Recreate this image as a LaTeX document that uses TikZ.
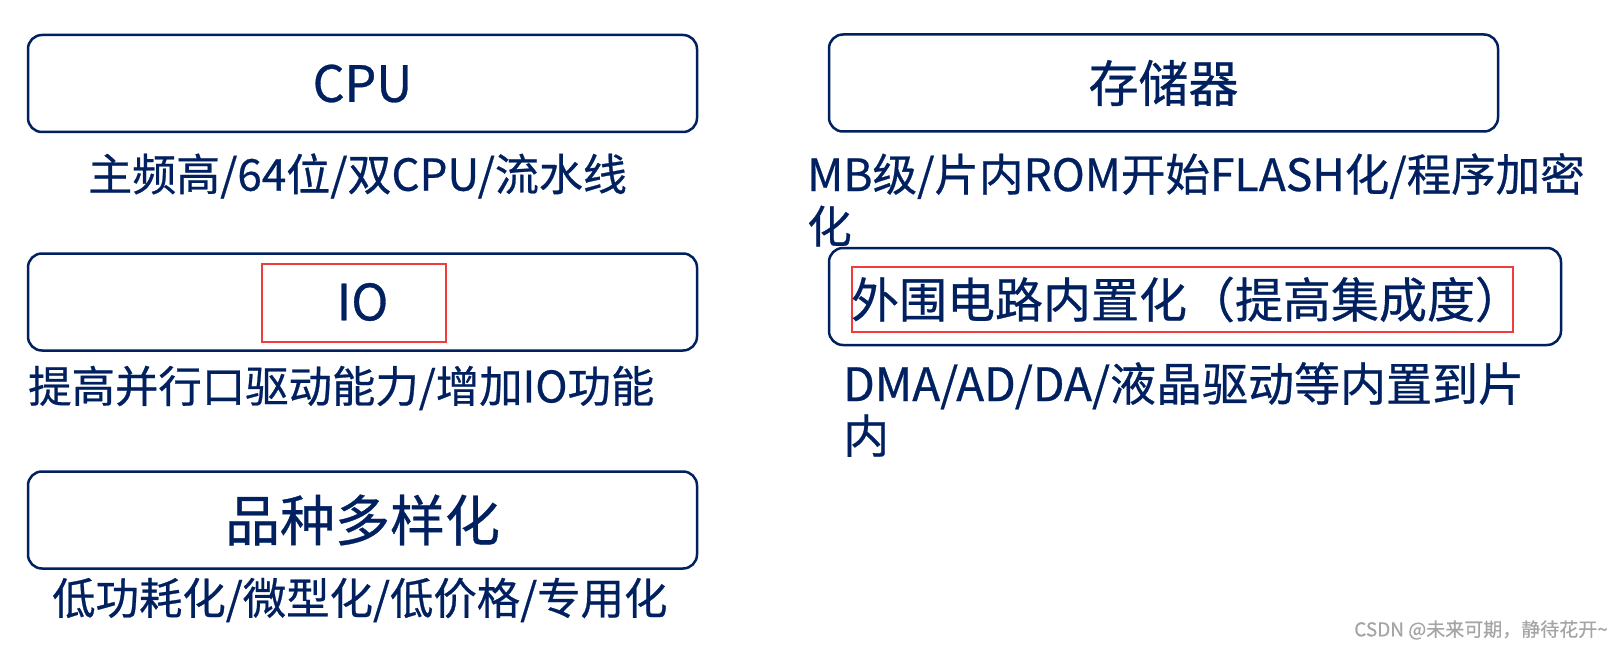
\documentclass[tikz,border=0pt]{standalone}
\usepackage{fontspec}
\setmainfont{Noto Sans CJK SC}[FakeBold=0.6]
\definecolor{navy}{RGB}{0,32,96}
\definecolor{redbox}{RGB}{240,60,60}
\definecolor{wm}{RGB}{165,165,165}
\tikzset{
  box/.style={draw=navy, line width=2.5pt, rounded corners=14pt, minimum height=97pt, inner sep=0pt},
  title/.style={text=navy, font=\fontsize{50}{56}\selectfont, inner sep=0pt},
  caption/.style={text=navy, font=\fontsize{44}{52}\selectfont, inner sep=0pt, align=left},
  hilite/.style={draw=redbox, line width=2pt, inner sep=0pt},
}
\begin{document}
\begin{tikzpicture}[x=1pt,y=-1pt]
\useasboundingbox (0,0) rectangle (1623,650);
% left column
\node[box, minimum width=669pt] (cpubox) at (362.5,83.5) {};
\node[title] (cpu) at (362.5,83.5) {CPU};
\node[caption, anchor=west] (cpucap) at (88,176) {主频高/64位/双CPU/流水线};

\node[box, minimum width=669pt] (iobox) at (362.5,302) {};
\node[hilite, minimum width=184pt, minimum height=78pt] (iored) at (354,303) {};
\node[title] (io) at (362.5,302) {IO};
\node[caption, font=\fontsize{43.4}{52}\selectfont, anchor=west] (iocap) at (28,388) {提高并行口驱动能力/增加IO功能};

\node[box, minimum width=669pt] (varbox) at (362.5,520) {};
\node[title, font=\fontsize{55}{60}\selectfont] (var) at (362.5,520) {品种多样化};
\node[caption, font=\fontsize{43.4}{52}\selectfont, anchor=west] (varcap) at (52,600) {低功耗化/微型化/低价格/专用化};

% right column
\node[box, minimum width=669pt] (membox) at (1163.5,83) {};
\node[title] (mem) at (1163.5,83) {存储器};
\node[caption, font=\fontsize{44.5}{52}\selectfont, anchor=north west] (memcap) at (807,153) {MB级/片内ROM开始FLASH化/程序加密\\化};

\node[box, minimum width=732pt] (perbox) at (1195,296.5) {};
\node[hilite, minimum width=661pt, minimum height=65pt] (perred) at (1182.5,299.5) {};
\node[title, font=\fontsize{48}{54}\selectfont] (per) at (1187,299.5) {外围电路内置化（提高集成度）};
\node[caption, font=\fontsize{46}{52}\selectfont, anchor=north west] (percap) at (843,362) {DMA/AD/DA/液晶驱动等内置到片\\内};

% watermark
\node[text=wm, font=\fontsize{19}{21}\selectfont, anchor=east, inner sep=0pt] (wmark) at (1608,630) {CSDN @未来可期，静待花开\textasciitilde};
\end{tikzpicture}
\end{document}
